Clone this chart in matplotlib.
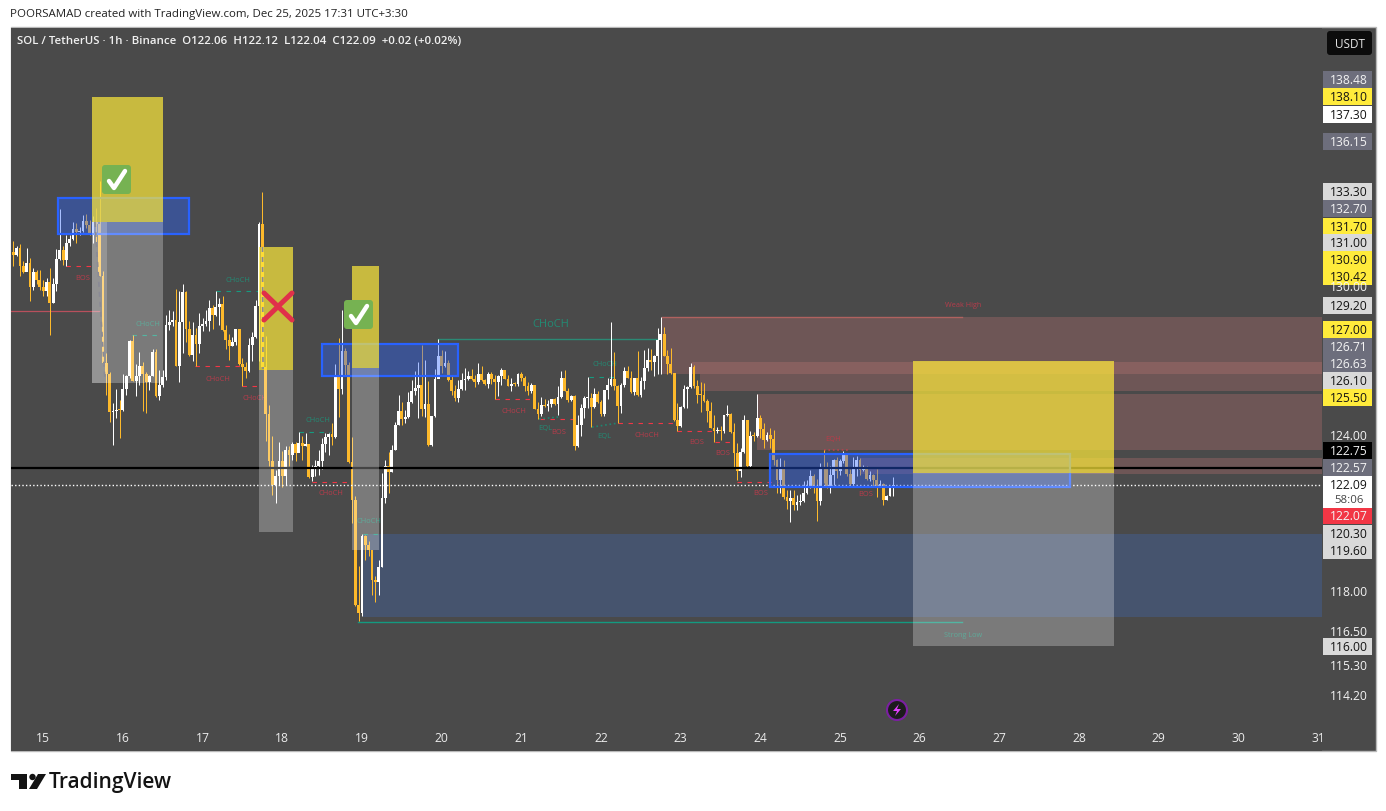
import numpy as np
import matplotlib
matplotlib.use("Agg")
import matplotlib.pyplot as plt
from matplotlib.patches import Rectangle, FancyBboxPatch, Circle, Polygon
from matplotlib.ticker import NullLocator

plt.rcParams['font.family'] = ['Open Sans', 'DejaVu Sans']

W, H = 1386, 812
BG = "#4a4a4a"
UP = "#ffffff"
DOWN = "#fdb92b"
TEAL = "#238a74"
RED = "#b83c4a"

# hourly candles, each opens at the previous close
first_open = 131.47
first_time = 14.627
closes = [
    131.36, 131.64, 130.90, 130.66, 131.01, 130.03, 130.66, 130.32, 130.03, 129.87,
    130.24, 129.37, 130.14, 131.19, 131.57, 131.15, 131.86, 132.02, 132.44, 132.30,
    132.37, 132.78, 132.61, 132.23, 132.75, 132.65, 130.49, 126.90, 126.48, 124.94,
    124.99, 125.05, 125.02, 125.88, 126.40, 127.83, 126.20, 126.40, 126.78, 126.48,
    126.14, 126.38, 127.36, 125.58, 126.04, 126.34, 128.47, 128.57, 128.67, 126.78,
    128.58, 129.80, 128.31, 127.26, 128.06, 127.70, 128.43, 128.50, 128.63, 129.17,
    128.88, 129.20, 129.34, 128.24, 127.86, 127.62, 127.77, 128.30, 126.89, 126.74,
    126.58, 127.66, 127.97, 129.26, 132.65, 126.75, 124.89, 123.04, 122.08, 122.43,
    123.04, 122.43, 123.47, 123.27, 123.70, 123.34, 123.73, 123.63, 123.68, 122.39,
    122.81, 122.85, 123.04, 123.69, 123.96, 124.10, 123.96, 126.38, 125.88, 127.42,
    126.85, 122.98, 121.52, 117.53, 117.21, 120.12, 119.80, 119.58, 118.45, 118.37,
    118.96, 121.60, 122.85, 122.61, 123.47, 124.46, 125.01, 124.69, 124.76, 125.37,
    125.80, 125.91, 126.04, 125.09, 125.28, 123.64, 124.81, 126.29, 127.22, 126.78,
    126.92, 126.25, 125.80, 125.53, 125.87, 126.25, 126.27, 126.41, 126.27, 126.17,
    126.49, 126.25, 126.06, 126.49, 126.29, 126.14, 126.38, 126.62, 126.29, 126.01,
    126.09, 126.07, 126.49, 126.31, 126.01, 125.78, 126.05, 125.09, 124.89, 125.25,
    125.18, 125.29, 125.47, 125.28, 125.55, 126.31, 125.81, 125.45, 125.61, 123.63,
    124.46, 125.11, 125.51, 125.52, 125.14, 125.69, 125.34, 124.88, 125.85, 126.05,
    126.29, 126.01, 125.18, 126.04, 126.58, 126.31, 125.74, 126.31, 125.64, 126.20,
    126.71, 127.05, 126.98, 127.19, 127.86, 128.10, 127.21, 126.89, 126.51, 124.65,
    124.41, 125.15, 125.87, 125.95, 126.75, 126.00, 125.64, 125.62, 125.41, 125.00,
    124.34, 124.19, 124.21, 124.19, 124.85, 124.88, 124.15, 123.33, 122.65, 123.36,
    124.65, 122.84, 124.02, 123.99, 124.71, 124.28, 123.86, 124.03, 123.88, 123.07,
    122.30, 122.73, 121.61, 121.46, 121.60, 121.30, 121.44, 121.46, 121.78, 122.07,
    122.46, 121.96, 121.46, 122.76, 122.73, 122.07, 122.50, 123.08, 122.65, 123.01,
    123.27, 122.53, 122.13, 122.78, 123.08, 122.69, 122.76, 122.33, 122.50, 122.27,
    122.07, 122.15, 121.52, 121.68, 121.97, 122.09,
]
highs = [
    131.94, 131.71, 131.82, 131.11, 131.64, 131.22, 130.81, 130.74, 130.74, 130.32,
    130.39, 130.81, 130.39, 131.61, 133.29, 131.73, 132.19, 132.19, 132.75, 132.68,
    132.54, 133.03, 133.08, 132.82, 132.99, 133.32, 134.50, 130.67, 127.32, 126.54,
    125.31, 125.87, 125.44, 126.48, 126.42, 127.86, 128.07, 126.89, 127.35, 126.97,
    126.55, 126.44, 127.48, 127.48, 126.65, 126.65, 128.89, 129.09, 129.02, 129.95,
    129.84, 130.16, 129.87, 128.63, 128.60, 128.33, 128.96, 128.74, 129.06, 129.50,
    129.30, 129.87, 129.57, 129.66, 128.47, 128.11, 127.99, 128.30, 128.31, 127.12,
    126.98, 127.93, 128.16, 129.50, 132.72, 134.02, 128.00, 125.25, 124.02, 122.69,
    123.77, 123.41, 123.60, 123.60, 123.79, 123.79, 124.16, 123.99, 124.12, 123.66,
    122.89, 123.05, 123.44, 123.93, 124.13, 124.13, 124.52, 126.88, 127.93, 129.08,
    127.53, 126.95, 123.97, 121.68, 119.00, 120.22, 120.18, 119.93, 119.61, 118.60,
    119.23, 122.56, 123.08, 123.38, 123.67, 124.55, 125.64, 125.35, 125.05, 125.77,
    126.25, 126.59, 126.95, 127.66, 127.03, 126.18, 124.81, 126.68, 127.89, 127.43,
    127.39, 127.06, 126.38, 126.04, 126.25, 126.51, 126.71, 126.58, 126.67, 126.45,
    126.92, 126.78, 126.27, 126.54, 126.54, 126.45, 126.45, 126.71, 126.65, 126.45,
    126.31, 126.14, 126.51, 126.54, 126.41, 126.14, 126.11, 126.05, 125.34, 125.55,
    125.47, 125.45, 125.47, 125.51, 125.98, 126.61, 126.65, 125.91, 125.65, 125.65,
    124.85, 125.29, 125.58, 126.35, 125.71, 125.91, 125.78, 125.45, 125.85, 126.31,
    128.59, 127.36, 126.05, 126.11, 126.75, 126.78, 126.58, 126.31, 127.41, 126.35,
    127.45, 127.52, 127.48, 127.25, 128.34, 128.79, 128.38, 127.45, 127.52, 126.52,
    125.31, 125.20, 126.04, 126.00, 126.92, 126.85, 126.24, 126.14, 126.11, 125.47,
    125.37, 124.85, 124.38, 124.41, 124.85, 125.24, 124.91, 124.52, 123.75, 123.53,
    124.85, 124.65, 124.19, 124.15, 125.68, 124.85, 124.52, 124.15, 124.32, 124.25,
    123.12, 123.16, 123.08, 121.91, 121.91, 121.91, 121.72, 121.76, 122.25, 122.27,
    122.67, 122.51, 122.34, 122.96, 123.47, 123.00, 122.85, 123.12, 123.17, 123.12,
    123.43, 123.27, 122.73, 123.17, 123.21, 123.15, 122.89, 122.82, 122.63, 122.53,
    122.73, 122.30, 122.17, 121.72, 122.04, 122.40,
]
lows = [
    130.90, 131.29, 130.46, 130.60, 130.67, 129.43, 129.91, 130.16, 129.91, 129.64,
    129.64, 128.04, 129.37, 129.84, 131.15, 130.94, 130.90, 131.71, 131.98, 131.87,
    132.19, 132.33, 132.47, 132.19, 131.84, 131.77, 130.46, 126.89, 125.62, 124.55,
    123.66, 124.72, 123.92, 124.98, 125.64, 126.31, 126.18, 125.58, 126.04, 124.98,
    124.92, 125.84, 126.38, 125.55, 125.44, 125.97, 126.24, 128.27, 128.41, 126.78,
    126.14, 127.32, 127.79, 127.19, 127.02, 126.81, 127.32, 128.20, 128.41, 128.20,
    128.30, 128.81, 128.47, 128.20, 127.48, 127.05, 127.62, 127.66, 126.85, 126.00,
    126.31, 126.54, 127.00, 127.93, 127.00, 126.75, 123.83, 122.82, 121.72, 121.40,
    122.10, 122.00, 122.10, 122.82, 123.08, 123.02, 123.41, 123.05, 123.60, 122.36,
    122.24, 122.43, 122.50, 122.72, 123.38, 123.27, 123.67, 123.93, 124.74, 125.66,
    126.45, 122.95, 120.63, 117.47, 116.91, 117.12, 119.20, 119.35, 117.90, 117.62,
    117.90, 118.94, 121.39, 121.78, 122.59, 123.44, 124.43, 124.46, 124.52, 124.72,
    125.31, 125.64, 124.72, 124.81, 124.74, 123.63, 123.63, 124.76, 126.38, 126.52,
    126.75, 126.18, 125.64, 125.41, 125.34, 125.85, 125.85, 126.22, 126.22, 125.95,
    126.09, 126.18, 126.05, 125.90, 126.09, 125.47, 125.61, 126.05, 126.27, 126.00,
    125.78, 125.98, 126.01, 126.18, 125.81, 125.65, 125.71, 125.08, 124.68, 124.81,
    125.15, 124.98, 125.15, 125.25, 124.85, 125.51, 125.78, 125.34, 125.38, 123.44,
    123.57, 124.02, 124.72, 125.11, 124.37, 125.11, 125.31, 124.78, 124.81, 125.47,
    126.01, 125.85, 124.52, 124.91, 125.97, 126.30, 125.71, 125.64, 125.60, 125.57,
    125.87, 126.58, 126.65, 126.38, 126.49, 126.49, 127.19, 126.49, 126.49, 124.62,
    124.19, 124.38, 125.11, 125.11, 125.91, 125.91, 125.31, 124.94, 125.37, 124.58,
    124.32, 123.76, 124.12, 123.86, 124.12, 124.78, 124.12, 122.81, 122.29, 122.42,
    123.33, 122.81, 122.81, 123.83, 123.96, 123.92, 123.53, 123.83, 123.53, 122.88,
    121.79, 121.79, 121.56, 121.18, 120.65, 121.14, 121.14, 121.33, 121.42, 121.76,
    121.99, 121.79, 120.72, 121.33, 122.18, 121.99, 121.80, 122.10, 122.38, 122.50,
    122.96, 122.46, 122.04, 122.07, 122.46, 122.50, 122.65, 122.30, 122.23, 122.04,
    121.64, 122.03, 121.33, 121.52, 121.65, 121.67,
]

# day axis labels
day_ticks = list(range(15, 32))

# premium / discount zones: start day, low price, high price
zone_starts = [22.767, 23.143, 23.243, 23.958, 25.25]
zone_lows = [126.49, 126.49, 125.80, 123.46, 122.53]
zone_highs = [128.80, 126.97, 126.49, 125.68, 123.15]
zone_colors = ["#6e5656", "#87605f", "#6e5656", "#6e5656", "#6e5656"]
demand_start, demand_low, demand_high = 19.015, 117.08, 120.21

# position tool boxes
pos_left = [15.615, 17.71, 18.877, 25.916]
pos_right = [16.50, 18.137, 19.216, 28.438]
pos_top = [138.10, 131.70, 130.90, 127.00]
pos_mid = [132.74, 126.63, 126.71, 122.57]
pos_bottom = [126.10, 120.30, 119.60, 116.00]

# blue rectangles
blue_left = [15.188, 18.50, 24.122]
blue_right = [16.832, 20.207, 27.886]
blue_low = [132.24, 126.40, 122.02]
blue_high = [133.76, 127.70, 123.31]

# structure levels
red_level_start = [15.289, 16.907, 17.497, 18.375, 20.671, 21.236, 22.215, 22.955, 23.432, 23.708]
red_level_end = [15.615, 17.472, 17.698, 18.852, 21.148, 21.65, 22.993, 23.432, 23.658, 24.222]
red_level_price = [130.90, 126.81, 126.00, 122.22, 125.47, 124.68, 124.52, 124.20, 123.78, 122.19]
teal_level_start = [16.117, 17.171, 18.212, 19.015, 21.851]
teal_level_end = [16.468, 17.698, 18.601, 19.203, 22.202]
teal_level_price = [128.06, 129.87, 124.18, 120.21, 126.36]

struct_text = ["BOS", "CHoCH", "CHoCH", "CHoCH", "CHoCH", "CHoCH", "CHoCH", "CHoCH", "CHoCH",
               "EQL", "BOS", "CHoCH", "EQL", "CHoCH", "BOS", "BOS", "EQH", "BOS", "BOS"]
struct_day = [15.502, 16.317, 17.447, 17.196, 17.66, 18.45, 18.614, 19.09, 20.91,
              21.30, 21.47, 22.05, 22.04, 22.58, 23.206, 23.532, 24.912, 24.01, 25.326]
struct_price = [130.41, 128.53, 130.32, 126.28, 125.52, 124.68, 121.79, 120.71, 125.01,
                124.36, 124.20, 126.89, 124.02, 124.06, 123.78, 123.35, 123.90, 121.82, 121.76]
struct_color = [RED, TEAL, TEAL, RED, RED, TEAL, RED, TEAL, RED,
                TEAL, RED, TEAL, TEAL, RED, RED, RED, RED, RED, RED]

# right price scale: text, box colour, text colour, label centre in pixels
scale_text = ["138.48", "138.10", "137.30", "136.15", "133.30", "132.70", "131.70", "131.00",
              "130.00", "130.90", "130.42", "129.20", "127.00", "126.71", "126.63", "126.10",
              "125.50", "124.00", "122.75", "122.57", "122.09", "122.07", "120.30", "119.60",
              "118.00", "116.50", "116.00", "115.30", "114.20"]
scale_y = [80.5, 97.5, 115.5, 142.5, 192.5, 209.5, 227.5, 243.5, 288, 260.5, 277.5, 306.5, 330.5, 347.5,
           364.5, 381.5, 398.5, 436.5, 451.5, 468.5, 485.5, 516.5, 534.5, 551.5, 592.5, 632.5, 647.5,
           666.5, 696.5]
GR, YE, WH, LG, NO, BK, RD = "#6d6e7c", "#ffeb3b", "#ffffff", "#d9d9d9", None, "#000000", "#f23645"
scale_box = [GR, YE, WH, GR, LG, GR, YE, LG, NO, YE, YE, LG, YE, GR, GR, LG,
             YE, NO, BK, GR, WH, RD, LG, LG, NO, NO, LG, NO, NO]

opens = np.array([first_open] + closes[:-1])
closes_arr = np.array(closes)
times = first_time + np.arange(len(closes)) / 24

fig = plt.figure(figsize=(W / 100, H / 100), dpi=100, facecolor="white")


def px_rect(x0, y0, x1, y1):
    return [x0 / W, 1 - y1 / H, (x1 - x0) / W, (y1 - y0) / H]


# pixel layers for the frame, scale and icons
bg = fig.add_axes([0, 0, 1, 1], zorder=0)
bg.set_xlim(0, W)
bg.set_ylim(H, 0)
bg.axis("off")
bg.add_patch(Rectangle((10.5, 27.5), 1365, 724, fc=BG, ec="#b8b8b8", lw=1))

ax = fig.add_axes(px_rect(11, 28.8, 1322, 751.8), zorder=1)
ax.set_facecolor(BG)
ax.set_yscale("log")
ax.set_xlim(14.598, 31.048)
ax.set_ylim(112.2, 141.19)
ax.yaxis.set_major_locator(NullLocator())
ax.yaxis.set_minor_locator(NullLocator())
ax.set_xticks([])
for s in ax.spines.values():
    s.set_visible(False)

right_edge = 31.05
for d0, lo, hi, c in zip(zone_starts, zone_lows, zone_highs, zone_colors):
    ax.add_patch(Rectangle((d0, lo), right_edge - d0, hi - lo, fc=c, ec="none", zorder=1))
ax.add_patch(Rectangle((demand_start, demand_low), right_edge - demand_start,
                       demand_high - demand_low, fc="#46546e", ec="none", zorder=1))

# long levels
ax.plot([14.6, 15.70], [129.04, 129.04], color="#b8505c", lw=0.9, zorder=2)
ax.plot([19.956, 22.72], [127.89, 127.89], color="#2b8a75", lw=1, zorder=2)
ax.plot([22.767, 26.53], [128.80, 128.80], color="#b0625f", lw=1, zorder=2)
ax.plot([18.952, 26.53], [116.88, 116.88], color="#139a80", lw=1, zorder=2)

ax.hlines(red_level_price, red_level_start, red_level_end, color="#f23645",
          lw=0.8, linestyles=(0, (4, 5)), zorder=2)
ax.hlines(teal_level_price, teal_level_start, teal_level_end, color="#159a80",
          lw=0.8, linestyles=(0, (4, 5)), zorder=2)
ax.plot([24.80, 25.127], [123.46, 123.46], color="#b8414e", lw=1.2, ls=":", zorder=2)
ax.plot([21.223, 21.462], [124.68, 124.76], color="#1f8570", lw=1.2, ls=":", zorder=2)
ax.plot([21.888, 22.215], [124.36, 124.52], color="#1f8570", lw=1.2, ls=":", zorder=2)

for t, d, p, c in zip(struct_text, struct_day, struct_price, struct_color):
    ax.text(d, p, t, color=c, fontsize=5.4, ha="center", va="center", zorder=2)
ax.text(21.374, 128.53, "CHoCH", color=TEAL, fontsize=8, ha="center", va="center", zorder=2)
ax.text(26.543, 129.29, "Weak High", color=RED, fontsize=5.2, ha="center", va="center", zorder=2)
ax.text(26.543, 116.42, "Strong Low", color=TEAL, fontsize=5.2, ha="center", va="center", zorder=2)

# candles
colors = np.where(closes_arr >= opens, UP, DOWN)
ax.vlines(times, lows, highs, colors=colors, lw=0.72, zorder=3)
ax.bar(times, np.maximum(np.abs(closes_arr - opens), 0.04),
       bottom=np.minimum(closes_arr, opens), width=0.035, color=colors, lw=0, zorder=3)

ax.axhline(122.75, color="black", lw=1.6, zorder=4)
ax.axhline(122.09, color="white", lw=1, ls=(0, (1, 1.6)), zorder=4)

for l, r, lo, hi in zip(blue_left, blue_right, blue_low, blue_high):
    ax.add_patch(Rectangle((l, lo), r - l, hi - lo, fc=(41 / 255, 98 / 255, 1, 0.4),
                           ec="#2962ff", lw=1.6, zorder=5))

for l, r, top, mid, bot in zip(pos_left, pos_right, pos_top, pos_mid, pos_bottom):
    ax.add_patch(Rectangle((l, mid), r - l, top - mid, fc="#ffeb3b", alpha=0.7, ec="none", zorder=6))
    ax.add_patch(Rectangle((l, bot), r - l, mid - bot, fc="white", alpha=0.27, ec="none", zorder=6))
# lighter strip on the first grey box
ax.add_patch(Rectangle((15.615, 126.10), 0.185, 132.74 - 126.10, fc="white", alpha=0.2, ec="none", zorder=6))

for d in day_ticks:
    ax.text(d, 112.68, str(d), color="#ececec", fontsize=8.7, ha="center", va="center",
            fontweight="medium", clip_on=True, zorder=7)

ov = fig.add_axes([0, 0, 1, 1], zorder=2)
ov.set_xlim(0, W)
ov.set_ylim(H, 0)
ov.axis("off")
ov.patch.set_alpha(0)

# position tool guides
ov.plot([95, 105], [223, 382], color="#8a8a96", lw=1.2, ls=(0, (3, 3)))
ov.plot([262.5, 263], [248, 370], color="#8a8a96", lw=1.2, ls=(0, (3, 3)))

# check and cross icons
for x0, y0 in [(102, 166), (344, 301)]:
    ov.add_patch(FancyBboxPatch((x0, y0), 29, 29, boxstyle="round,pad=0,rounding_size=3",
                                fc="#76b252", ec="none"))
    ov.plot([x0 + 7, x0 + 12, x0 + 23], [y0 + 16, y0 + 23, y0 + 6], color="white", lw=3.2,
            solid_capstyle="round", solid_joinstyle="round")
ov.plot([264, 292], [294, 321], color="#e0304a", lw=3.6, solid_capstyle="round")
ov.plot([292, 264], [294, 321], color="#e0304a", lw=3.6, solid_capstyle="round")

# lightning badge
ov.add_patch(Circle((897, 711), 10, fc="#1c1c1c", ec="#7b1fa2", lw=1.5))
ov.add_patch(Polygon([(899, 705), (893, 712), (897, 712), (895, 717), (901, 710), (897, 710)],
                     fc="#e040fb", ec="none"))

# price scale
for t, y, b in zip(scale_text, scale_y, scale_box):
    if b is not None:
        ov.add_patch(Rectangle((1323, y - 8.5), 49, 17, fc=b, ec="none"))
    dark = b in (YE, WH, LG)
    ov.text(1349, y, t, color="#131313" if dark else "#f4f4f4", fontsize=8.7, ha="center",
            va="center", fontweight="medium")
ov.add_patch(Rectangle((1323, 493), 49, 15.5, fc=WH, ec="none"))
ov.text(1349, 500.5, "58:06", color="#444444", fontsize=8.2, ha="center", va="center")

ov.add_patch(FancyBboxPatch((1327, 32), 45, 24, boxstyle="round,pad=0,rounding_size=3",
                            fc="#0c0c0c", ec="none"))
ov.text(1349.5, 44.5, "USDT", color="#e6e6e6", fontsize=8.5, ha="center", va="center")

# header texts
ov.text(10, 14.5, "POORSAMAD created with TradingView.com, Dec 25, 2025 17:31 UTC+3:30",
        color="#222222", fontsize=8.25, va="center")
ov.text(17, 42, "SOL / TetherUS · 1h · Binance  O122.06  H122.12  L122.04  C122.09  +0.02 (+0.02%)",
        color="#f0f0f0", fontsize=8.25, va="center", fontweight="semibold")

# logo
ov.add_patch(Polygon([(11, 775), (27, 775), (27, 790), (19, 790), (19, 781), (11, 781)], fc="#131313", ec="none"))
ov.add_patch(Circle((32.5, 778), 3.2, fc="#131313", ec="none"))
ov.add_patch(Polygon([(38, 775), (46, 775), (37, 790), (29, 790)], fc="#131313", ec="none"))
ov.text(48.5, 782.5, "TradingView", color="#131313", fontsize=15, va="center", fontweight="semibold")

fig.savefig("out.png", dpi=100, facecolor="white")
